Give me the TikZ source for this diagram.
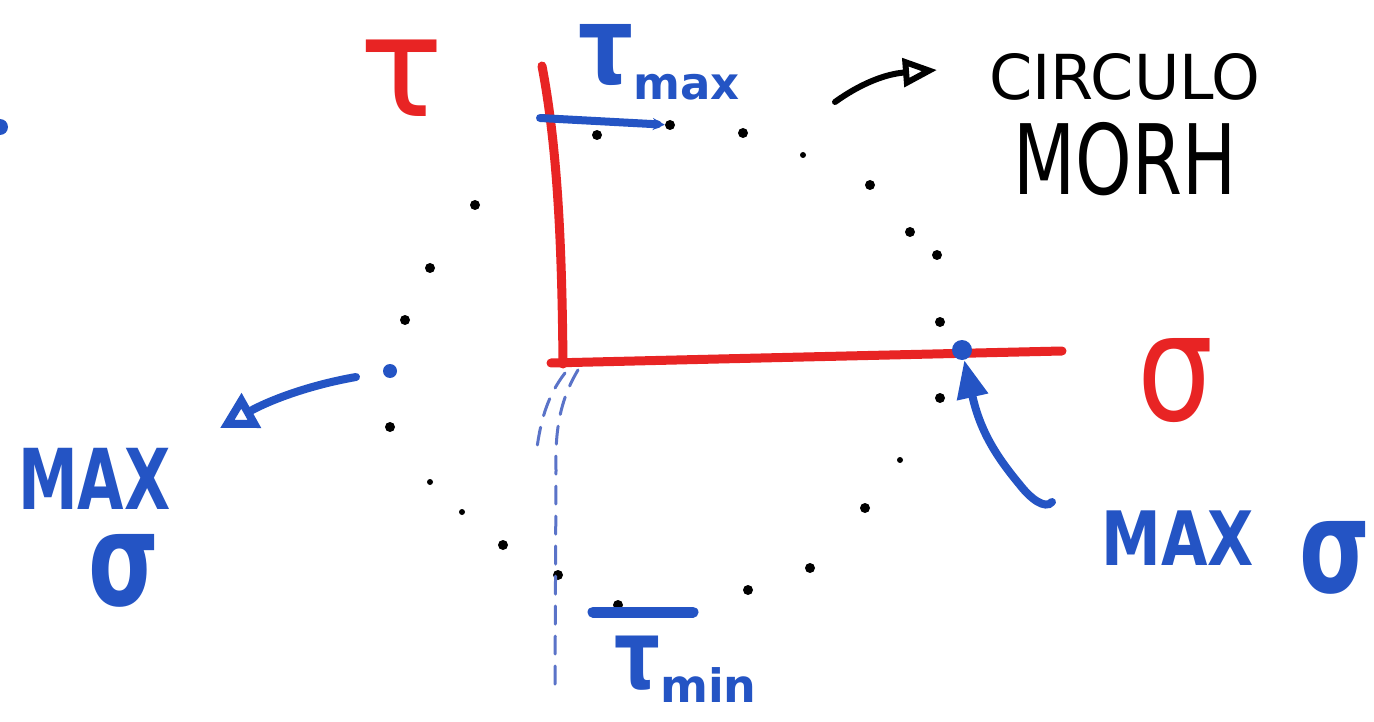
\documentclass[tikz,border=0pt]{standalone}
\usepackage{fontspec}
\setmainfont{DejaVu Sans}
\usetikzlibrary{arrows.meta}
\definecolor{penred}{RGB}{232,36,36}
\definecolor{penblue}{RGB}{36,84,196}
\definecolor{dashblue}{RGB}{90,115,200}
\begin{document}
\begin{tikzpicture}[x=1pt,y=-1pt,
  dot/.style={circle,fill=black,inner sep=0pt,minimum size=10pt},
  sdot/.style={circle,fill=black,inner sep=0pt,minimum size=6pt},
  bdot/.style={circle,fill=penblue,inner sep=0pt},
  axisline/.style={draw=penred,line width=9pt,line cap=round},
  bluepen/.style={draw=penblue,line width=8pt,line cap=round},
  dashpen/.style={draw=dashblue,line width=3pt,dash pattern=on 18pt off 12pt,line cap=round},
  lbl/.style={inner sep=0pt,anchor=base},
  redlbl/.style={lbl,text=penred},
  bluelbl/.style={lbl,text=penblue,font=\bfseries},
]
\useasboundingbox[fill=white] (0,0) rectangle (1374,722);

% red axes
\coordinate (vtop) at (542,66);
\coordinate (orig) at (563,364);
\coordinate (hend) at (1062,351);
\draw[axisline] (vtop) .. controls (558,150) and (562,250) .. (orig);
\draw[axisline] (551,363) coordinate (hstart) .. controls (760,358) .. (hend);

% axis labels
\node[redlbl,font=\fontsize{140}{140}\selectfont] (tau) at (402,117) {τ};
\node[redlbl,font=\fontsize{150}{150}\selectfont] (sig) at (1176,420) {\scalebox{0.8}[1]{σ}};

% dotted Mohr circle
\foreach \p [count=\i] in {(475,205),(430,268),(405,320),(390,427),(503,545),(558,575),(597,135),(670,125),(743,133),(870,185),(910,232),(937,255),(940,322),(940,398),(865,508),(810,568),(748,590),(618,605)}
  \node[dot] (d\i) at \p {};
\foreach \p [count=\i] in {(430,482),(462,512),(803,155),(900,460)}
  \node[sdot] (s\i) at \p {};
\node[bdot,minimum size=14pt] (bl) at (390,371) {};
\node[bdot,minimum size=20pt] (br) at (962,350) {};
\node[bdot,minimum size=16pt] (edge) at (0,127) {};

% dashed guide lines
\coordinate (da) at (578,370);
\coordinate (db) at (555,690);
\coordinate (dc) at (565,373);
\coordinate (dd) at (536,456);
\draw[dashpen] (da) .. controls (560,400) and (555,430) .. (556,470) -- (db);
\draw[dashpen] (dc) .. controls (548,395) and (540,420) .. (dd);

% tau max
\coordinate (tma) at (540,118);
\draw[bluepen,-{Stealth[length=12pt,width=12pt]}] (tma) -- (d8);
\node[bluelbl,anchor=base west,font=\bfseries\fontsize{108}{108}\selectfont] (taumax) at (578,84)
  {\scalebox{0.8}[1]{τ}\fontsize{45}{45}\selectfont\raisebox{-16pt}{max}};

% tau min
\coordinate (tmina) at (593,612);
\coordinate (tminb) at (693,612);
\draw[draw=penblue,line width=11pt,line cap=round] (tmina) -- (tminb);
\node[bluelbl,anchor=base west,font=\bfseries\fontsize{96}{96}\selectfont] (taumin) at (614,688)
  {\scalebox{0.75}[1]{τ}\fontsize{46}{46}\selectfont\raisebox{-14pt}{min}};

% left arrow and label
\coordinate (la) at (356,377);
\coordinate (lb) at (220,428);
\draw[bluepen,-{Triangle[open,length=36pt,width=38pt]}] (la) .. controls (310,385) and (270,400) .. (lb);
\node[bluelbl,anchor=north west,align=center,font=\bfseries\fontsize{60}{60}\selectfont] (lmax) at (18,448)
  {\scalebox{1}[1.4]{MAX}\\[24pt]\hspace*{60pt}{\fontsize{130}{130}\selectfont\scalebox{0.7}[1]{σ}}};

% right arrow and label
\coordinate (ra) at (1052,502);
\draw[bluepen,-{Triangle[length=38pt,width=30pt]}] (ra) .. controls (1045,510) and (1030,498) .. (1020,485) .. controls (995,455) and (980,430) .. (br);
\node[bluelbl,font=\bfseries\fontsize{60}{60}\selectfont] (rmax) at (1178,565) {\scalebox{1}[1.25]{MAX}};
\node[bluelbl,font=\bfseries\fontsize{130}{130}\selectfont] (rsig) at (1335,592) {\scalebox{0.7}[1]{σ}};

% Mohr circle label
\coordinate (ka) at (835,102);
\coordinate (kb) at (937,70);
\draw[draw=black,line width=6pt,line cap=round,-{Triangle[open,length=34pt,width=28pt]}] (ka) .. controls (860,84) and (885,74) .. (kb);
\node[lbl,font=\fontsize{62}{62}\selectfont] (circ) at (1125,100) {CIRCULO};
\node[lbl,font=\fontsize{72}{72}\selectfont] (mohr) at (1125,195) {\scalebox{1}[1.35]{MORH}};
\end{tikzpicture}
\end{document}
